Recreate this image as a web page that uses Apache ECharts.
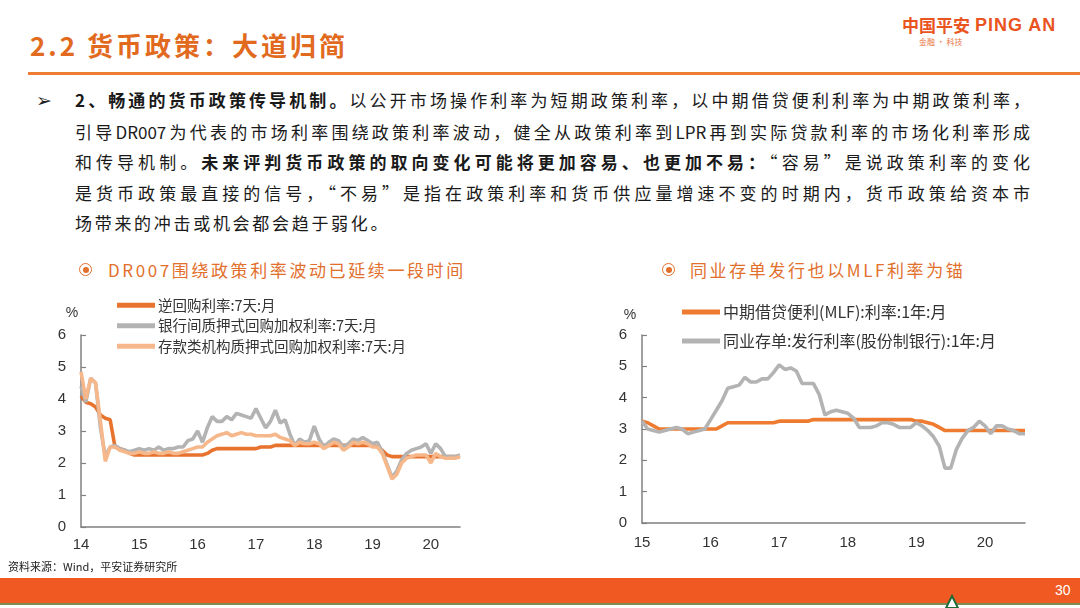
<!DOCTYPE html>
<html><head><meta charset="utf-8">
<script src="https://cdn.jsdelivr.net/npm/echarts@6/dist/echarts.min.js"></script>
<style>
body{margin:0;width:1080px;height:608px;overflow:hidden;background:#fff;font-family:"Noto Sans CJK SC",sans-serif;position:relative}
#chart{position:absolute;left:0;top:0;width:1080px;height:608px}
.abs{position:absolute;white-space:nowrap}
.para{position:absolute;left:75px;width:955px;font-size:17px;line-height:20px;color:#1a1a1a;text-align:justify;text-align-last:justify;white-space:nowrap}
.para b{font-weight:bold}
.sub{position:absolute;font-size:17px;line-height:20px;color:#E2702C;letter-spacing:2.6px;white-space:nowrap}
.ring{position:absolute;width:11px;height:11px;border:1.8px solid #E2702C;border-radius:50%}
.ring i{position:absolute;left:2.5px;top:2.5px;width:6px;height:6px;border-radius:50%;background:#E2702C}
</style></head><body>
<div class="abs" style="left:30px;top:29px;font-size:26px;line-height:32px;color:#E26A1E;font-weight:bold;letter-spacing:3px">2.2 货币政策：大道归简</div>
<div class="abs" style="left:28px;top:72px;width:1052px;height:3px;background:#EE7D33"></div>
<div class="abs" style="left:902px;top:15px;font-size:17px;line-height:20px;color:#E9541F;font-weight:bold">中国平安</div>
<div class="abs" style="left:975px;top:14px;font-size:18px;line-height:22px;color:#E9541F;font-weight:bold;font-family:'Liberation Sans',Arial,sans-serif;letter-spacing:1px">PING AN</div>
<div class="abs" style="left:919px;top:37px;font-size:8px;line-height:10px;color:#E9743F">金融 · 科技</div>
<div class="abs" style="left:36px;top:89px;font-size:19px;line-height:22px;color:#222;font-family:'DejaVu Sans',sans-serif">➢</div>
<div class="para" style="top:90px"><b>2、畅通的货币政策传导机制。</b>以公开市场操作利率为短期政策利率，以中期借贷便利利率为中期政策利率，</div>
<div class="para" style="top:122px">引导DR007为代表的市场利率围绕政策利率波动，健全从政策利率到LPR再到实际贷款利率的市场化利率形成</div>
<div class="para" style="top:152px">和传导机制。<b>未来评判货币政策的取向变化可能将更加容易、也更加不易：</b>“容易”是说政策利率的变化</div>
<div class="para" style="top:183px">是货币政策最直接的信号，“不易”是指在政策利率和货币供应量增速不变的时期内，货币政策给资本市</div>
<div class="para" style="top:213px;text-align-last:left;width:auto;letter-spacing:2.7px">场带来的冲击或机会都会趋于弱化。</div>
<div class="ring" style="left:79px;top:263px"><i></i></div>
<div class="sub" style="left:108px;top:260px">DR007围绕政策利率波动已延续一段时间</div>
<div class="ring" style="left:662px;top:263px"><i></i></div>
<div class="sub" style="left:690px;top:260px">同业存单发行也以MLF利率为锚</div>
<div id="chart"></div>
<div class="abs" style="left:8px;top:559px;font-size:11px;line-height:14px;color:#222">资料来源：Wind，平安证券研究所</div>
<div class="abs" style="left:0;top:578px;width:1080px;height:25px;background:#F05A22"></div>
<div class="abs" style="left:0;top:603px;width:1080px;height:2px;background:#7C8B54"></div>
<div class="abs" style="left:1055px;top:581px;font-size:14px;line-height:18px;color:#fff;font-family:'Liberation Sans Narrow','Liberation Sans',sans-serif">30</div>
<svg class="abs" style="left:944px;top:594px" width="16" height="14"><polygon points="8,2 14,14 2,14" fill="#fff" stroke="#1E6B3A" stroke-width="2"/></svg>
<script>
// ---- Left chart data: monthly, 2014-01 .. 2020-07 ----
const leftStart = [2014, 1];
const leftCount = 79;
const reverseRepo7D = [4.1,3.9,3.85,3.75,3.5,3.4,3.35,2.5,2.45,2.4,2.3,2.25,
  2.25,2.25,2.25,2.25,2.25,2.25,2.25,2.25,2.25,2.25,2.25,2.25,
  2.25,2.25,2.3,2.4,2.45,2.45,2.45,2.45,2.45,2.45,2.45,2.45,
  2.45,2.5,2.5,2.5,2.55,2.55,2.55,2.55,2.55,2.55,2.55,2.55,
  2.55,2.55,2.55,2.55,2.55,2.55,2.55,2.55,2.55,2.55,2.55,2.55,
  2.55,2.5,2.4,2.25,2.2,2.2,2.2,2.2,2.2,2.2,2.2,2.2,
  2.2,2.2,2.2,2.2,2.2,2.2,2.2];
const interbankRepo7D = [4.4,3.9,4.65,4.5,3.1,2.2,2.5,2.55,2.45,2.4,2.35,2.4,
  2.45,2.4,2.45,2.4,2.5,2.4,2.45,2.45,2.5,2.5,2.7,2.75,
  3.0,2.65,3.1,3.45,3.3,3.3,3.45,3.35,3.55,3.5,3.45,3.4,
  3.7,3.4,3.1,3.3,3.65,3.25,3.35,2.9,2.55,2.75,2.65,2.7,
  3.15,2.75,2.5,2.65,2.75,2.7,2.5,2.6,2.75,2.7,2.8,2.7,
  2.6,2.65,2.35,1.95,1.55,1.75,2.1,2.3,2.4,2.45,2.5,2.6,
  2.3,2.6,2.45,2.2,2.2,2.2,2.25];
const depositoryRepo7D = [4.85,4.0,4.65,4.5,3.3,2.05,2.5,2.5,2.4,2.35,2.3,2.3,
  2.35,2.3,2.3,2.35,2.3,2.3,2.35,2.3,2.3,2.35,2.4,2.45,
  2.5,2.5,2.65,2.75,2.85,2.9,2.95,2.85,2.9,2.95,2.9,2.9,
  2.85,2.85,2.85,2.85,2.9,2.8,2.75,2.7,2.55,2.65,2.6,2.6,
  2.65,2.6,2.45,2.55,2.65,2.6,2.4,2.5,2.65,2.6,2.65,2.6,
  2.5,2.5,2.3,1.9,1.5,1.65,2.0,2.15,2.2,2.25,2.25,2.25,
  2.0,2.3,2.2,2.15,2.15,2.15,2.2];
const leftNames = ['逆回购利率:7天:月','银行间质押式回购加权利率:7天:月','存款类机构质押式回购加权利率:7天:月'];

// ---- Right chart data: monthly, 2015-01 .. 2020-08 ----
const rightStart = [2015, 1];
const rightCount = 68;
const mlf1Y = [3.25,3.2,3.1,3.0,3.0,3.0,3.0,3.0,3.0,3.0,3.0,3.0,
  3.0,3.0,3.1,3.2,3.2,3.2,3.2,3.2,3.2,3.2,3.2,3.2,
  3.25,3.25,3.25,3.25,3.25,3.25,3.3,3.3,3.3,3.3,3.3,3.3,
  3.3,3.3,3.3,3.3,3.3,3.3,3.3,3.3,3.3,3.3,3.3,3.3,
  3.25,3.25,3.2,3.15,3.05,2.95,2.95,2.95,2.95,2.95,2.95,2.95,
  2.95,2.95,2.95,2.95,2.95,2.95,2.95,2.95];
const ncdJointStock1Y = [3.25,3.0,2.95,2.9,2.95,3.0,3.05,3.0,2.85,2.9,2.95,3.0,
  3.3,3.6,3.9,4.3,4.35,4.4,4.65,4.5,4.5,4.6,4.6,4.8,
  5.05,4.9,4.95,4.85,4.45,4.45,4.45,4.1,3.45,3.55,3.6,3.55,
  3.5,3.35,3.05,3.05,3.05,3.1,3.2,3.2,3.15,3.05,3.05,3.05,
  3.2,3.1,2.95,2.75,2.45,1.75,1.75,2.35,2.7,2.95,3.05,3.25,
  3.1,2.85,3.1,3.1,3.0,2.95,2.85,2.85];
const rightNames = ['中期借贷便利(MLF):利率:1年:月','同业存单:发行利率(股份制银行):1年:月'];
const yTicks = [0,1,2,3,4,5,6];

function monthCats(start, n){
  const out=[]; let y=start[0], m=start[1];
  for(let i=0;i<n;i++){ out.push(y+'-'+(m<10?'0':'')+m); m++; if(m>12){m=1;y++;} }
  return out;
}
const leftCats = monthCats(leftStart, leftCount);
const rightCats = monthCats(rightStart, rightCount);

const axisColor = '#808080';
const labelFont = "'Liberation Sans', Arial, sans-serif";
function xAxisCfg(gi, cats, margin){
  return {gridIndex:gi,type:'category',data:cats,boundaryGap:false,
    axisLine:{lineStyle:{color:axisColor,width:1.5}},axisTick:{show:false},
    axisLabel:{interval:(i,v)=>v.endsWith('-01'),formatter:v=>v.slice(2,4),color:'#333',fontSize:15,margin:margin,fontFamily:labelFont},
    splitLine:{show:false}};
}
function yAxisCfg(gi, pad, gap){
  return {gridIndex:gi,type:'value',min:yTicks[0],max:yTicks[yTicks.length-1],interval:1,
    name:'%',nameLocation:'end',nameGap:gap,nameTextStyle:{color:'#333',fontSize:14,fontFamily:labelFont,padding:[0,pad,0,0]},
    axisLine:{show:true,lineStyle:{color:axisColor,width:1.5}},
    axisTick:{show:true,inside:true,length:5,lineStyle:{color:axisColor,width:1.2}},
    axisLabel:{color:'#333',fontSize:15,margin:15,fontFamily:labelFont},
    splitLine:{show:false}};
}
function lineSeries(name, data, color, xi){
  return {name:name,type:'line',data:data,xAxisIndex:xi,yAxisIndex:xi,symbol:'none',
    lineStyle:{color:color,width:3.6},itemStyle:{color:color},z:2};
}
const cDark='#E8732F', cGray='#B3B3B3', cLight='#F6B88B', cMlf='#EE7B30';
const chart = echarts.init(document.getElementById('chart'), null, {renderer:'canvas'});
chart.setOption({
  animation:false,
  backgroundColor:'transparent',
  grid:[{left:81,top:335,width:379,height:192},{left:642,top:335,width:383,height:188}],
  legend:[
    {data:leftNames,orient:'vertical',left:117,top:298,padding:0,itemWidth:38,itemHeight:5,itemGap:6,icon:'rect',
      textStyle:{color:'#333',fontSize:14.5,fontFamily:"'Noto Sans CJK SC', sans-serif",padding:[0,0,0,-2]}},
    {data:rightNames,orient:'vertical',left:682,top:304,padding:0,itemWidth:38,itemHeight:5,itemGap:13,icon:'rect',
      textStyle:{color:'#333',fontSize:16,fontFamily:"'Noto Sans CJK SC', sans-serif",padding:[0,0,0,-2]}}
  ],
  xAxis:[xAxisCfg(0,leftCats,10), xAxisCfg(1,rightCats,12)],
  yAxis:[yAxisCfg(0,18,15), yAxisCfg(1,24,13)],
  series:[
    lineSeries(leftNames[0], reverseRepo7D, cDark, 0),
    lineSeries(leftNames[1], interbankRepo7D, cGray, 0),
    lineSeries(leftNames[2], depositoryRepo7D, cLight, 0),
    lineSeries(rightNames[0], mlf1Y, cMlf, 1),
    lineSeries(rightNames[1], ncdJointStock1Y, cGray, 1)
  ]
});
</script>
</body></html>
